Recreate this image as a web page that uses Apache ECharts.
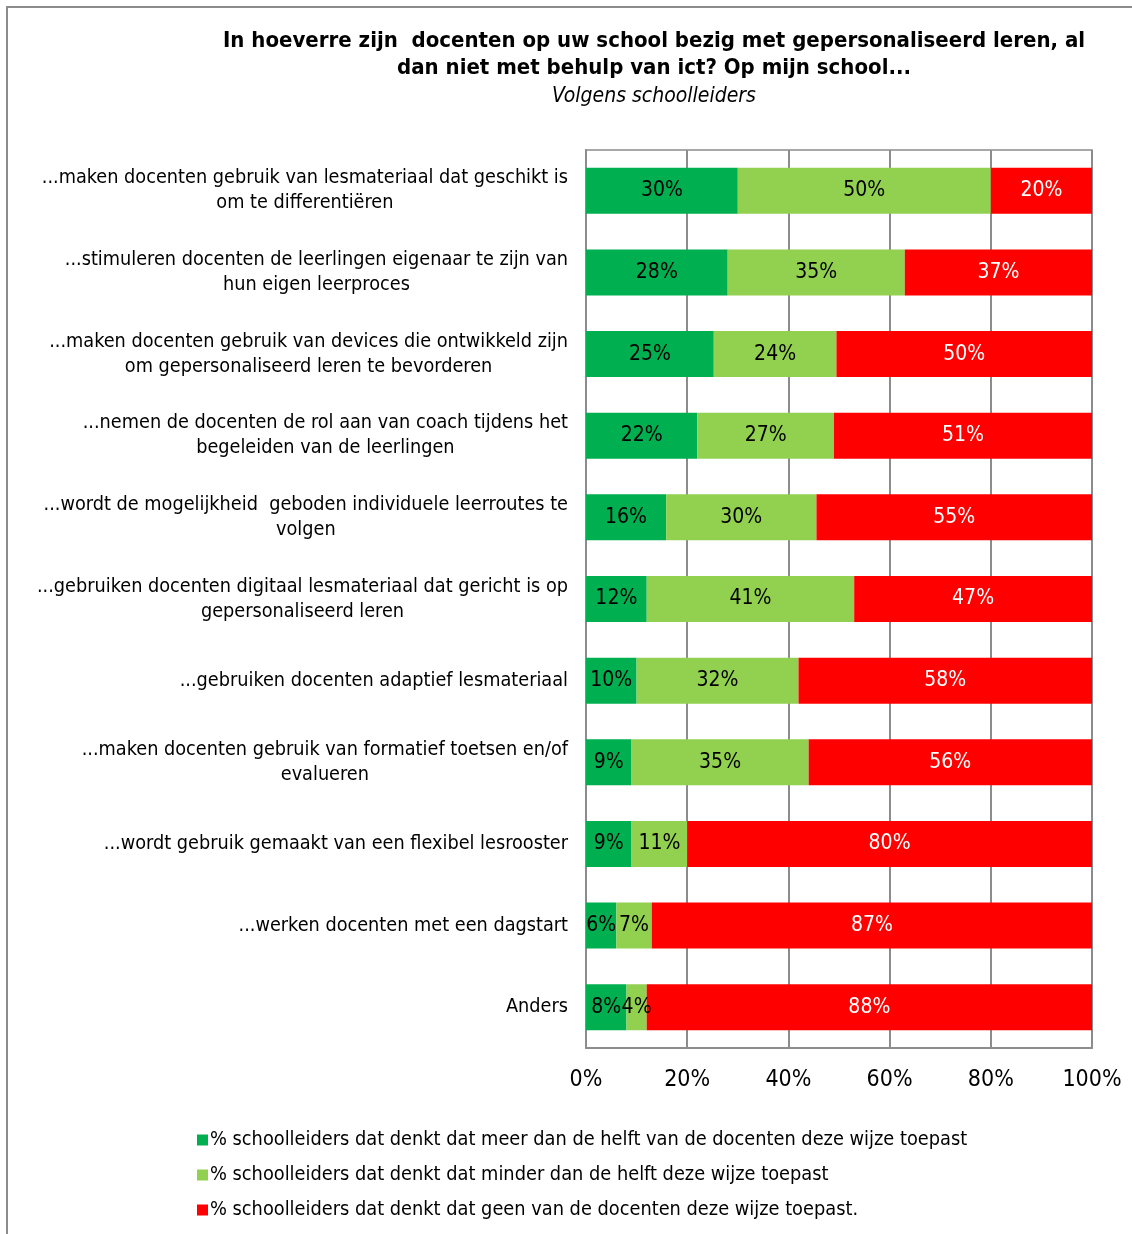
<!DOCTYPE html>
<html>
<head>
<meta charset="utf-8">
<script src="https://cdn.jsdelivr.net/npm/echarts@6/dist/echarts.min.js"></script>
<style>
html,body{margin:0;padding:0;background:#fff;}
#c{width:1132px;height:1234px;}
</style>
</head>
<body>
<div id="c"></div>
<script>
const categories = [
  "...maken docenten gebruik van lesmateriaal dat geschikt is\nom te differentiëren",
  "...stimuleren docenten de leerlingen eigenaar te zijn van\nhun eigen leerproces",
  "...maken docenten gebruik van devices die ontwikkeld zijn\nom gepersonaliseerd leren te bevorderen",
  "...nemen de docenten de rol aan van coach tijdens het\nbegeleiden van de leerlingen",
  "...wordt de mogelijkheid  geboden individuele leerroutes te\nvolgen",
  "...gebruiken docenten digitaal lesmateriaal dat gericht is op\ngepersonaliseerd leren",
  "...gebruiken docenten adaptief lesmateriaal",
  "...maken docenten gebruik van formatief toetsen en/of\nevalueren",
  "...wordt gebruik gemaakt van een flexibel lesrooster",
  "...werken docenten met een dagstart",
  "Anders"
];
const meerDanHelft = [30, 28, 25, 22, 16, 12, 10, 9, 9, 6, 8];
const minderDanHelft = [50, 35, 24, 27, 30, 41, 32, 35, 11, 7, 4];
const geen = [20, 37, 50, 51, 55, 47, 58, 56, 80, 87, 88];
const seriesNames = [
  "% schoolleiders dat denkt dat meer dan de helft van de docenten deze wijze toepast",
  "% schoolleiders dat denkt dat minder dan de helft deze wijze toepast",
  "% schoolleiders dat denkt dat geen van de docenten deze wijze toepast."
];
const xTicks = [0, 20, 40, 60, 80, 100];

const FONT = "'DejaVu Sans Condensed', 'DejaVu Sans', sans-serif";
const raw = [meerDanHelft, minderDanHelft, geen];
const colors = ['#00B050', '#92D050', '#FF0000'];
const labelColors = ['#000', '#000', '#fff'];
const totals = categories.map((_, i) => raw[0][i] + raw[1][i] + raw[2][i]);

const chart = echarts.init(document.getElementById('c'));
chart.setOption({
  animation: false,
  backgroundColor: '#fff',
  title: {
    text: 'In hoeverre zijn  docenten op uw school bezig met gepersonaliseerd leren, al\ndan niet met behulp van ict? Op mijn school...',
    subtext: 'Volgens schoolleiders',
    left: 649, top: 23, textAlign: 'center',
    itemGap: 4,
    textStyle: {fontFamily: FONT, fontSize: 22, fontWeight: 'bold', color: '#000', lineHeight: 27},
    subtextStyle: {fontFamily: FONT, fontSize: 21, fontStyle: 'italic', color: '#000'}
  },
  graphic: [{
    type: 'rect', shape: {x: 7, y: 7, width: 1200, height: 1300},
    style: {fill: 'none', stroke: '#8c8c8c', lineWidth: 2}, silent: true
  }],
  legend: {
    orient: 'vertical', left: 192, top: 1125, itemGap: 15,
    itemWidth: 11, itemHeight: 11, icon: 'rect',
    textStyle: {fontFamily: FONT, fontSize: 19.8, color: '#000', padding: [0, 0, 0, -3]},
    data: seriesNames
  },
  grid: {left: 586, right: 40, top: 150, bottom: 186, show: true, borderColor: '#8c8c8c', borderWidth: 1.5, containLabel: false},
  xAxis: {
    type: 'value', min: 0, max: 100, interval: 20,
    axisLine: {show: true, lineStyle: {color: '#8c8c8c', width: 2}},
    axisTick: {show: false},
    splitLine: {show: true, lineStyle: {color: '#8c8c8c', width: 2}},
    axisLabel: {fontFamily: FONT, fontSize: 23, color: '#000', margin: 21,
      formatter: v => xTicks.includes(v) ? v + '%' : ''}
  },
  yAxis: {
    type: 'category', inverse: true, data: categories,
    axisLine: {show: true, lineStyle: {color: '#8c8c8c', width: 2}},
    axisTick: {show: false},
    axisLabel: {
      fontFamily: FONT, fontSize: 19.7, color: '#000', margin: 18, lineHeight: 25,
      formatter: v => '{a|' + v + '}',
      rich: {a: {fontFamily: FONT, fontSize: 19.7, color: '#000', lineHeight: 25, align: 'center'}}
    }
  },
  series: raw.map((arr, s) => ({
    name: seriesNames[s], type: 'bar', stack: 'tot', barWidth: 46,
    itemStyle: {color: colors[s]},
    label: {show: true, position: 'inside', fontFamily: FONT, fontSize: 21, color: labelColors[s],
      formatter: p => arr[p.dataIndex] + '%'},
    data: arr.map((v, i) => v / totals[i] * 100)
  }))
});
</script>
</body>
</html>
